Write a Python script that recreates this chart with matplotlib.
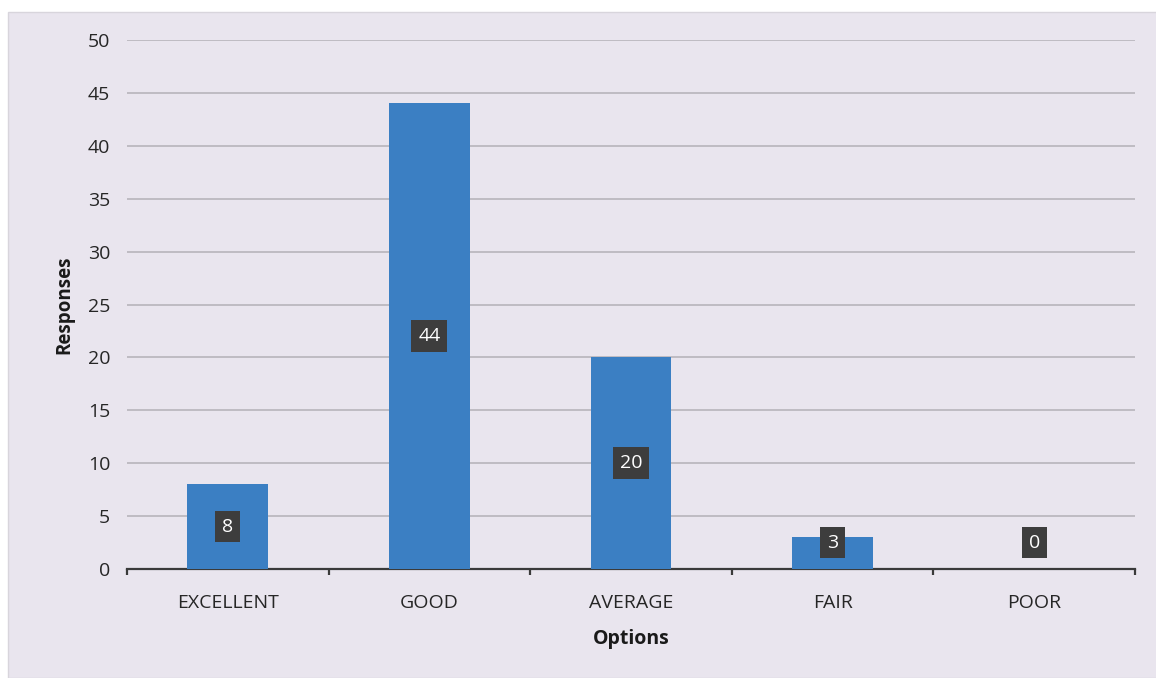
import numpy as np
import matplotlib.pyplot as plt
from matplotlib.patches import Rectangle

# survey data
options = ['EXCELLENT', 'GOOD', 'AVERAGE', 'FAIR', 'POOR']
responses = [8, 44, 20, 3, 0]

plt.rcParams['font.family'] = ['Open Sans', 'DejaVu Sans']

fig = plt.figure(figsize=(11.56, 6.78), dpi=100)
fig.patch.set_facecolor('white')
# light lavender chart area
fig.patches.append(Rectangle((8/1156, 0), 1, 1 - 12/678, transform=fig.transFigure,
                             facecolor='#e9e5ee', edgecolor='#d8d5dc', lw=1, zorder=-1))

ax = fig.add_axes([127/1156, 1 - 569/678, 1008/1156, 529/678])
ax.set_facecolor('none')

x = np.arange(len(options))
bars = ax.bar(x, responses, width=0.4, color='#3b7fc3', zorder=3)

ax.set_xlim(-0.5, len(options) - 0.5)
ax.set_ylim(0, 50)
ax.set_yticks(range(0, 51, 5))
ax.yaxis.grid(True, color='#b3b0b6', lw=1.1)
ax.set_axisbelow(True)

for s in ['top', 'right', 'left']:
    ax.spines[s].set_visible(False)
ax.spines['bottom'].set_color('#3a3a3a')
ax.spines['bottom'].set_linewidth(1.6)

ax.set_xticks(x)
ax.set_xticklabels(options, fontsize=14, color='#262626')
ax.tick_params(axis='x', length=0, pad=18)
ax.set_xticks(np.arange(-0.5, len(options), 1), minor=True)
ax.tick_params(axis='x', which='minor', length=4, width=1.6, color='#3a3a3a')
ax.tick_params(axis='y', length=0, labelsize=14, labelcolor='#262626', pad=12)

ax.set_xlabel('Options', fontsize=14, fontweight='bold', color='#1a1a1a', labelpad=12)
ax.set_ylabel('Responses', fontsize=13.5, fontweight='bold', color='#1a1a1a', labelpad=10)

# value labels in dark boxes
for xi, v in zip(x, responses):
    ax.text(xi, max(v / 2, 2.5), str(v), ha='center', va='center', fontsize=14,
            color='white', zorder=5,
            bbox=dict(boxstyle='square,pad=0.35', facecolor='#3d3d3d', edgecolor='none'))

fig.savefig('out.png', dpi=100, facecolor=fig.get_facecolor())
